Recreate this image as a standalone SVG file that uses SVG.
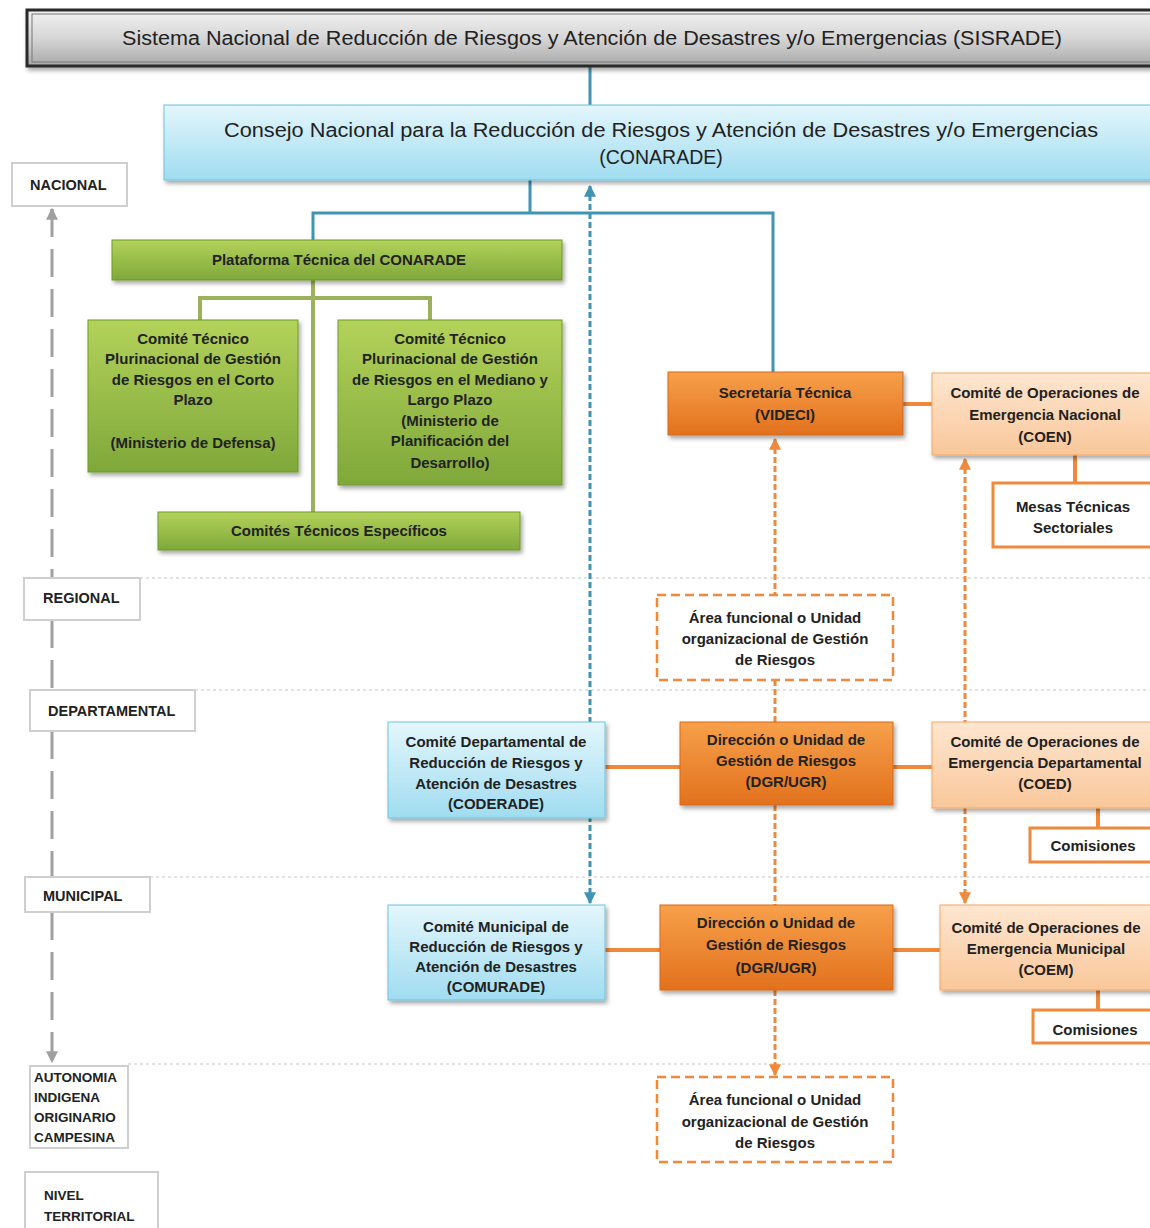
<svg xmlns="http://www.w3.org/2000/svg" width="1150" height="1228" viewBox="0 0 1150 1228">
<defs>
  <linearGradient id="gGray" x1="0" y1="0" x2="0" y2="1"><stop offset="0" stop-color="#f2f2f2"/><stop offset="0.5" stop-color="#d6d6d6"/><stop offset="1" stop-color="#a8a8a8"/></linearGradient>
  <linearGradient id="gCyan" x1="0" y1="0" x2="0" y2="1"><stop offset="0" stop-color="#e4f6fc"/><stop offset="1" stop-color="#9fdcf0"/></linearGradient>
  <linearGradient id="gGreen" x1="0" y1="0" x2="0" y2="1"><stop offset="0" stop-color="#b3d25a"/><stop offset="1" stop-color="#7fa83a"/></linearGradient>
  <linearGradient id="gOrange" x1="0" y1="0" x2="0" y2="1"><stop offset="0" stop-color="#f7a04a"/><stop offset="1" stop-color="#e2711d"/></linearGradient>
  <linearGradient id="gPeach" x1="0" y1="0" x2="0" y2="1"><stop offset="0" stop-color="#fee6d0"/><stop offset="1" stop-color="#f9c79a"/></linearGradient>
  <filter id="sh" x="-5%" y="-10%" width="115%" height="130%"><feDropShadow dx="2" dy="3" stdDeviation="2" flood-color="#000" flood-opacity="0.35"/></filter>
  <marker id="aBlue" viewBox="0 0 10 10" refX="9" refY="5" markerWidth="4" markerHeight="4" orient="auto-start-reverse"><path d="M0,0 L10,5 L0,10 z" fill="#3f94b5"/></marker>
  <marker id="aOrange" viewBox="0 0 10 10" refX="9" refY="5" markerWidth="4" markerHeight="4" orient="auto-start-reverse"><path d="M0,0 L10,5 L0,10 z" fill="#f0893b"/></marker>
  <marker id="aGray" viewBox="0 0 10 10" refX="9" refY="5" markerWidth="4" markerHeight="4" orient="auto-start-reverse"><path d="M0,0 L10,5 L0,10 z" fill="#a0a0a0"/></marker>
</defs>
<style>
  text { font-family: "Liberation Sans", Arial, sans-serif; fill: #222; }
  .t { font-size: 15px; font-weight: bold; text-anchor: middle; }
  .lv { font-size: 14.5px; font-weight: bold; }
  .lvt { font-size: 13.5px; font-weight: bold; }
  .lvs { font-size: 13.5px; font-weight: bold; }
  .big { font-size: 19.5px; text-anchor: middle; }
  .lvbox { fill: #fff; stroke: #cfcfcf; stroke-width: 2; }
  .green { fill: url(#gGreen); stroke: #6f9a2c; stroke-width: 1; filter: url(#sh); }
  .orange { fill: url(#gOrange); stroke: #d9691a; stroke-width: 1; filter: url(#sh); }
  .peach { fill: url(#gPeach); stroke: #f3a865; stroke-width: 1; filter: url(#sh); }
  .cyan { fill: url(#gCyan); stroke: #6fc3df; stroke-width: 1; filter: url(#sh); }
  .white { fill: #fff; stroke: #f0893b; stroke-width: 3; }
  .dashbox { fill: #fff; stroke: #f0893b; stroke-width: 2.5; stroke-dasharray: 9 5; }
  .sep { stroke: #c8c8c8; stroke-width: 1.2; stroke-dasharray: 3 3; fill: none; }
  .cBlue { stroke: #3f94b5; stroke-width: 3; fill: none; }
  .cBlueD { stroke: #3f94b5; stroke-width: 3; fill: none; stroke-dasharray: 6 3; }
  .cGreen { stroke: #9cb25a; stroke-width: 4; fill: none; }
  .cOr { stroke: #f0893b; stroke-width: 4; fill: none; }
  .cOrD { stroke: #f0893b; stroke-width: 3; fill: none; stroke-dasharray: 6 3; }
  .cGray { stroke: #a0a0a0; stroke-width: 3; fill: none; stroke-dasharray: 28 12; }
</style>

<!-- level separators -->
<g id="separators">
  <line class="sep" x1="140" y1="578" x2="1150" y2="578"/>
  <line class="sep" x1="195" y1="690" x2="1150" y2="690"/>
  <line class="sep" x1="150" y1="877" x2="1150" y2="877"/>
  <line class="sep" x1="128" y1="1064" x2="1150" y2="1064"/>
</g>

<!-- connectors -->
<g id="connectors">
  <line class="cBlue" x1="590" y1="66" x2="590" y2="105"/>
  <polyline class="cBlue" points="530,180 530,213"/>
  <polyline class="cBlue" points="313,240 313,213 773,213 773,372"/>
  <line class="cBlueD" x1="590" y1="186" x2="590" y2="903" marker-start="url(#aBlue)" marker-end="url(#aBlue)"/>
  <line class="cGreen" x1="313" y1="280" x2="313" y2="512"/>
  <polyline class="cGreen" points="200,320 200,298 430,298 430,320"/>
  <line class="cOr" x1="903" y1="404" x2="932" y2="404"/>
  <line class="cOr" x1="1075" y1="455" x2="1075" y2="483"/>
  <line class="cOrD" x1="775" y1="439" x2="775" y2="595" marker-start="url(#aOrange)"/>
  <line class="cOrD" x1="775" y1="680" x2="775" y2="722"/>
  <line class="cOrD" x1="775" y1="805" x2="775" y2="905"/>
  <line class="cOrD" x1="775" y1="990" x2="775" y2="1075" marker-end="url(#aOrange)"/>
  <line class="cOrD" x1="965" y1="459" x2="965" y2="722" marker-start="url(#aOrange)"/>
  <line class="cOrD" x1="965" y1="808" x2="965" y2="903" marker-end="url(#aOrange)"/>
  <line class="cOr" x1="605" y1="767" x2="680" y2="767"/>
  <line class="cOr" x1="893" y1="767" x2="932" y2="767"/>
  <line class="cOr" x1="1098" y1="808" x2="1098" y2="828"/>
  <line class="cOr" x1="605" y1="950" x2="660" y2="950"/>
  <line class="cOr" x1="893" y1="950" x2="940" y2="950"/>
  <line class="cOr" x1="1098" y1="990" x2="1098" y2="1010"/>
  <!-- level axis -->
  <line class="cGray" x1="52" y1="209" x2="52" y2="578"/>
  <line class="cGray" x1="52" y1="620" x2="52" y2="690"/>
  <line class="cGray" x1="52" y1="731" x2="52" y2="877"/>
  <line class="cGray" x1="52" y1="912" x2="52" y2="1062" marker-end="url(#aGray)"/>
  <line x1="52" y1="209" x2="52" y2="214" stroke="#a0a0a0" stroke-width="3" marker-start="url(#aGray)"/>
</g>

<g id="sisrade">
  <rect x="27" y="10" width="1140" height="56" fill="url(#gGray)" stroke="#2a2a2a" stroke-width="3" filter="url(#sh)"/>
  <rect x="32" y="14" width="1130" height="48" fill="none" stroke="#777" stroke-width="1"/>
  <text class="big" x="592" y="45" textLength="940" lengthAdjust="spacingAndGlyphs">Sistema Nacional de Reducción de Riesgos y Atención de Desastres y/o Emergencias (SISRADE)</text>
</g>

<g id="conarade">
  <rect class="cyan" x="164" y="105" width="1000" height="75"/>
  <text class="big" x="661" y="137" textLength="874" lengthAdjust="spacingAndGlyphs">Consejo Nacional para la Reducción de Riesgos y Atención de Desastres y/o Emergencias</text>
  <text class="big" x="661" y="164">(CONARADE)</text>
</g>

<g id="lv-nacional"><rect class="lvbox" x="12" y="163" width="115" height="43"/><text class="lv" x="30" y="190">NACIONAL</text></g>
<g id="lv-regional"><rect class="lvbox" x="24" y="578" width="116" height="42"/><text class="lv" x="43" y="603">REGIONAL</text></g>
<g id="lv-departamental"><rect class="lvbox" x="30" y="690" width="165" height="41"/><text class="lv" x="48" y="716">DEPARTAMENTAL</text></g>
<g id="lv-municipal"><rect class="lvbox" x="25" y="877" width="125" height="35"/><text class="lv" x="43" y="901">MUNICIPAL</text></g>
<g id="lv-autonomia"><rect class="lvbox" x="30" y="1066" width="98" height="82"/>
  <text class="lvs" x="34" y="1082">AUTONOMIA</text><text class="lvs" x="34" y="1102">INDIGENA</text><text class="lvs" x="34" y="1122">ORIGINARIO</text><text class="lvs" x="34" y="1142">CAMPESINA</text></g>
<g id="lv-territorial"><rect class="lvbox" x="25" y="1172" width="133" height="60"/>
  <text class="lvt" x="44" y="1200">NIVEL</text><text class="lvt" x="44" y="1221">TERRITORIAL</text></g>

<g id="plataforma"><rect class="green" x="112" y="240" width="450" height="40"/><text class="t" x="339" y="265">Plataforma Técnica del CONARADE</text></g>

<g id="ct-corto"><rect class="green" x="88" y="320" width="210" height="152"/>
  <text class="t" x="193" y="344">Comité Técnico</text>
  <text class="t" x="193" y="364">Plurinacional de Gestión</text>
  <text class="t" x="193" y="385">de Riesgos en el Corto</text>
  <text class="t" x="193" y="405">Plazo</text>
  <text class="t" x="193" y="448">(Ministerio de Defensa)</text></g>

<g id="ct-mediano"><rect class="green" x="338" y="320" width="224" height="165"/>
  <text class="t" x="450" y="344">Comité Técnico</text>
  <text class="t" x="450" y="364">Plurinacional de Gestión</text>
  <text class="t" x="450" y="385">de Riesgos en el Mediano y</text>
  <text class="t" x="450" y="405">Largo Plazo</text>
  <text class="t" x="450" y="426">(Ministerio de</text>
  <text class="t" x="450" y="446">Planificación del</text>
  <text class="t" x="450" y="468">Desarrollo)</text></g>

<g id="ct-especificos"><rect class="green" x="158" y="512" width="362" height="38"/><text class="t" x="339" y="536">Comités Técnicos Específicos</text></g>

<g id="secretaria"><rect class="orange" x="668" y="372" width="235" height="63"/>
  <text class="t" x="785" y="398">Secretaría Técnica</text><text class="t" x="785" y="420">(VIDECI)</text></g>

<g id="coen"><rect class="peach" x="932" y="373" width="230" height="82"/>
  <text class="t" x="1045" y="398">Comité de Operaciones de</text><text class="t" x="1045" y="420">Emergencia Nacional</text><text class="t" x="1045" y="442">(COEN)</text></g>

<g id="mesas"><rect class="white" x="993" y="483" width="170" height="64"/>
  <text class="t" x="1073" y="512">Mesas Técnicas</text><text class="t" x="1073" y="533">Sectoriales</text></g>

<g id="area-regional"><rect class="dashbox" x="657" y="595" width="236" height="85"/>
  <text class="t" x="775" y="623">Área funcional o Unidad</text><text class="t" x="775" y="644">organizacional de Gestión</text><text class="t" x="775" y="665">de Riesgos</text></g>

<g id="coderade"><rect class="cyan" x="388" y="722" width="217" height="96"/>
  <text class="t" x="496" y="747">Comité Departamental de</text><text class="t" x="496" y="768">Reducción de Riesgos y</text><text class="t" x="496" y="789">Atención de Desastres</text><text class="t" x="496" y="809">(CODERADE)</text></g>

<g id="dgr-dep"><rect class="orange" x="680" y="722" width="213" height="83"/>
  <text class="t" x="786" y="745">Dirección o Unidad de</text><text class="t" x="786" y="766">Gestión de Riesgos</text><text class="t" x="786" y="787">(DGR/UGR)</text></g>

<g id="coed"><rect class="peach" x="932" y="722" width="230" height="86"/>
  <text class="t" x="1045" y="747">Comité de Operaciones de</text><text class="t" x="1045" y="768">Emergencia Departamental</text><text class="t" x="1045" y="789">(COED)</text></g>

<g id="comisiones-dep"><rect class="white" x="1030" y="828" width="130" height="34"/><text class="t" x="1093" y="851">Comisiones</text></g>

<g id="comurade"><rect class="cyan" x="388" y="905" width="217" height="95"/>
  <text class="t" x="496" y="932">Comité Municipal de</text><text class="t" x="496" y="952">Reducción de Riesgos y</text><text class="t" x="496" y="972">Atención de Desastres</text><text class="t" x="496" y="992">(COMURADE)</text></g>

<g id="dgr-mun"><rect class="orange" x="660" y="905" width="233" height="85"/>
  <text class="t" x="776" y="928">Dirección o Unidad de</text><text class="t" x="776" y="950">Gestión de Riesgos</text><text class="t" x="776" y="973">(DGR/UGR)</text></g>

<g id="coem"><rect class="peach" x="940" y="905" width="222" height="85"/>
  <text class="t" x="1046" y="933">Comité de Operaciones de</text><text class="t" x="1046" y="954">Emergencia Municipal</text><text class="t" x="1046" y="975">(COEM)</text></g>

<g id="comisiones-mun"><rect class="white" x="1033" y="1010" width="130" height="33"/><text class="t" x="1095" y="1035">Comisiones</text></g>

<g id="area-territorial"><rect class="dashbox" x="657" y="1077" width="236" height="85"/>
  <text class="t" x="775" y="1105">Área funcional o Unidad</text><text class="t" x="775" y="1127">organizacional de Gestión</text><text class="t" x="775" y="1148">de Riesgos</text></g>
</svg>
